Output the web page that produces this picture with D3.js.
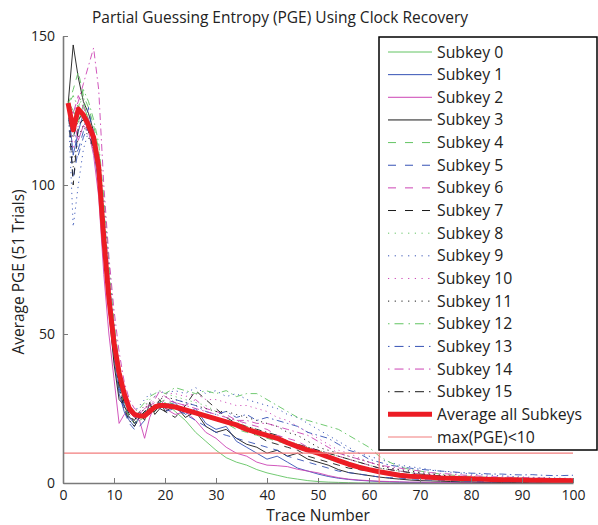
<!DOCTYPE html>
<html>
<head>
<meta charset="utf-8">
<script src="https://cdn.jsdelivr.net/npm/d3@7"></script>
<style>
  body { margin: 0; background: #fff; }
  svg { font-family: "Open Sans", "Noto Sans", sans-serif; }
</style>
</head>
<body>
<div id="chart"></div>
<script>
const traces = d3.range(1, 21).concat(d3.range(22, 101, 2));

const subkeyNames = d3.range(16).map(i => "Subkey " + i);

// one row per subkey: traces 1..20, then 22,24,...,100
const subkey0 = [128,125,121,127,122,117,108,82,60,44,34,27,24,22,21,22,24,25,26,27,
  24,21,17,14,11,8.5,7,6,4.5,3.4,2.6,1.8,1.3,0.8,0.5,0.3,0.2,0.1,0,0,0,0,0,0,0,0,0,0,0,0,0,0,0,0,0,0,0,0,0,0];
const subkey1 = [127,110,118,124,121,112,100,78,58,42,30,24,21,19,22,24,23,25,27,26,
  27,23,25,20,18,19,14,12,10,8,9,7,5,4,3,2.2,1.6,1.2,0.9,0.7,0.5,0.4,0.3,0.2,0.2,0.1,0.1,0.1,0.1,0.1,0.1,0.1,0,0,0,0,0,0,0,0];
const subkey2 = [127,122,115,120,118,110,96,70,50,35,20,23,24,22,21,15,22,26,27,25,
  23,24,21,17,15,12,10,9,7,6,5.8,5.5,4.6,4,3.4,2.5,1.8,1.3,1,0.8,0.6,0.5,0.4,0.3,0.3,0.2,0.2,0.2,0.2,0.1,0.1,0.1,0.1,0.1,0,0,0,0,0,0];
const subkey3 = [127,147,136,128,124,118,108,80,58,40,28,26,22,21,24,21,27,23,25,24,
  26,22,24,19,17,18,15,13,12,10,11,9,10,8,7,6,4.5,3.5,3,2.5,2,1.6,1.3,1,0.8,0.7,0.6,0.5,0.4,0.4,0.3,0.3,0.2,0.2,0.2,0.1,0.1,0.1,0.1,0.1];
const subkey4 = [127,132,138,130,126,120,112,90,66,48,34,26,22,20,22,24,25,24,27,28,
  26,25,23,22,21,20,18,17,16,15,14,13,12,11,10,8,7,6,5,4,3.5,3,2.5,2.2,2,1.8,1.6,1.4,1.3,1.2,1.1,1,0.9,0.8,0.8,0.7,0.7,0.6,0.6,0.5];
const subkey5 = [127,102,112,118,126,116,104,84,62,46,32,24,20,18,19,21,25,26,25,24,
  25,23,21,19,17,16,15,14,13,12,11,9,8,7,6,5,4,3.5,3,2.5,2,1.8,1.6,1.4,1.2,1,0.9,0.8,0.7,0.6,0.5,0.5,0.4,0.4,0.4,0.3,0.3,0.3,0.3,0.2];
const subkey6 = [127,124,130,126,122,118,110,92,70,52,38,28,24,22,23,25,26,27,26,28,
  27,26,28,25,24,23,21,20,19,18,16,15,14,12,11,10,9,8,7,6,5,4.5,4,3.5,3,2.6,2.3,2,1.8,1.6,1.4,1.3,1.2,1.1,1,0.9,0.9,0.8,0.8,0.7];
const subkey7 = [127,100,120,122,118,112,106,88,64,46,34,27,23,20,22,24,26,25,28,24,
  22,26,31,28,25,22,20,18,16,14,13,12,11,9,8,7,6,5,4.5,4,3.5,3,2.5,2.2,2,1.8,1.6,1.4,1.2,1.1,1,0.9,0.8,0.7,0.6,0.6,0.5,0.5,0.4,0.4];
const subkey8 = [127,118,126,130,120,116,108,90,68,50,36,28,24,22,24,26,28,29,28,30,
  29,28,27,26,24,22,21,19,18,16,15,14,13,12,11,10,9,8,7,6,5,4.5,4,3.5,3,2.6,2.3,2,1.8,1.6,1.5,1.4,1.3,1.2,1.1,1,1,0.9,0.9,0.8];
const subkey9 = [127,86,100,112,118,116,110,94,72,54,38,30,26,24,26,28,30,29,31,30,
  31,30,32,30,31,29,30,28,27,26,25,23,22,20,18,16,14,12,10,9,8,7,6,5.5,5,4.5,4,3.6,3.3,3,2.8,2.6,2.4,2.2,2,1.9,1.8,1.7,1.6,1.5];
const subkey10 = [127,112,120,124,118,114,106,90,70,52,36,28,24,22,24,26,27,29,28,30,
  30,29,30,28,28,27,26,26,25,24,22,21,19,17,15,13,11,10,8.5,7,6,5,4.5,4,3.5,3,2.7,2.4,2.2,2,1.8,1.7,1.6,1.5,1.4,1.3,1.2,1.1,1,1];
const subkey11 = [127,106,116,120,116,112,104,88,66,48,34,26,23,21,23,25,27,26,28,29,
  28,27,26,25,24,24,23,22,21,20,19,17,16,14,12,11,10,9,8,7,6,5,4.5,4,3.5,3,2.6,2.3,2,1.8,1.6,1.5,1.4,1.3,1.2,1.1,1,0.9,0.9,0.8];
const subkey12 = [127,130,126,132,128,122,114,96,74,54,40,30,26,24,25,27,29,30,31,30,
  32,31,30,31,30,31,29,30,30,28,26,24,22,21,20,19,18,16,14,12,9,7,5.5,4.5,4,3.5,3,2.7,2.4,2.2,2,1.9,1.8,1.7,1.6,1.5,1.4,1.3,1.3,1.2];
const subkey13 = [127,120,110,116,120,114,106,88,66,48,34,26,22,20,22,24,25,26,27,26,
  28,27,26,24,23,24,22,23,21,22,21,20,19,17,16,15,13,11,10,8,7,6,5.5,5,4.6,4.3,4,3.8,3.5,3.3,3.2,3,3,2.8,2.7,2.8,2.6,2.5,2.5,2.6];
const subkey14 = [127,124,128,134,140,146,132,100,76,58,44,34,28,25,24,25,26,28,31,29,
  27,26,25,24,23,22,21,21,20,20,19,18,17,16,14,12,10,9,8,7,6,5.5,5,4.5,4,3.5,3.2,3,2.7,2.5,2.3,2.1,2,1.9,1.8,1.7,1.6,1.5,1.4,1.3];
const subkey15 = [127,116,122,124,120,114,104,84,62,46,32,25,21,19,22,24,25,24,26,25,
  26,25,24,23,22,21,20,19,18,17,16,14,13,12,11,10,9,8,7,6,5,4.5,4,3.5,3,2.7,2.4,2.2,2,1.8,1.6,1.5,1.4,1.3,1.2,1.1,1,0.9,0.9,0.8];

const subkeyValues = [subkey0, subkey1, subkey2, subkey3, subkey4, subkey5, subkey6, subkey7,
  subkey8, subkey9, subkey10, subkey11, subkey12, subkey13, subkey14, subkey15];

// thick red line
const averageAll = [127.5,118.5,125.5,123.5,120,116,106,82,62,47,37,30,25,23,22.5,22.5,24,25.5,26,26,
  25.5,24.5,23.5,22.5,21.5,20.5,19.5,18,17,16,15,13.5,12.2,11,10,8.8,7.5,6.3,5.3,4.5,3.8,3.2,2.6,2.3,2.1,1.9,1.7,1.6,1.5,1.4,1.3,1.2,1.1,1.05,1,0.95,0.9,0.85,0.8,0.75];

// threshold marker
const thresholdPGE = 10;
const thresholdTrace = 62;

const xTicks = d3.range(0, 101, 10);
const yTicks = [0, 50, 100, 150];

const W = 598, H = 525;
const margin = { top: 36, right: 25, bottom: 42, left: 63 };
const width = W - margin.left - margin.right;
const height = H - margin.top - margin.bottom;

const colors = ["#62c462", "#3552b5", "#cc44b4", "#1a1a1a"];
const dashes = [null, "7,6", "1.2,4", "1.5,3.5,7,3.5"];
const legendDashes = [null, "8,9", "1.2,5.5", "1.5,5,9,5"];

const svg = d3.select("#chart").append("svg")
  .attr("width", W).attr("height", H);

const g = svg.append("g")
  .attr("transform", `translate(${margin.left},${margin.top})`);

const x = d3.scaleLinear().domain([0, 100]).range([0, width]);
const y = d3.scaleLinear().domain([0, 150]).range([height, 0]);

svg.append("defs").append("clipPath").attr("id", "clip")
  .append("rect").attr("width", width).attr("height", height + 1);

const line = d3.line()
  .x((d, i) => x(traces[i]))
  .y(d => y(d));

const plot = g.append("g").attr("clip-path", "url(#clip)");

subkeyValues.forEach((vals, i) => {
  plot.append("path")
    .datum(vals)
    .attr("d", line)
    .attr("fill", "none")
    .attr("stroke", colors[i % 4])
    .attr("stroke-width", 0.9)
    .attr("stroke-dasharray", dashes[Math.floor(i / 4)]);
});

plot.append("path")
  .datum(averageAll)
  .attr("d", line)
  .attr("fill", "none")
  .attr("stroke", "#ec1c24")
  .attr("stroke-width", 5)
  .attr("stroke-linejoin", "round");

// max(PGE)<10 marker
plot.append("line")
  .attr("x1", x(0)).attr("x2", x(100))
  .attr("y1", y(thresholdPGE)).attr("y2", y(thresholdPGE))
  .attr("stroke", "#f27c7c").attr("stroke-width", 1.2);
plot.append("line")
  .attr("x1", x(thresholdTrace)).attr("x2", x(thresholdTrace))
  .attr("y1", y(0)).attr("y2", y(thresholdPGE))
  .attr("stroke", "#f27c7c").attr("stroke-width", 1.2);

// axes (ticks inside)
const xAxis = g.append("g")
  .attr("transform", `translate(0,${height})`)
  .call(d3.axisBottom(x).tickValues(xTicks).tickSize(-5).tickPadding(7).tickSizeOuter(0));
const yAxis = g.append("g")
  .call(d3.axisLeft(y).tickValues(yTicks).tickSize(-5).tickPadding(8).tickSizeOuter(0));

[xAxis, yAxis].forEach(a => {
  a.select(".domain").attr("stroke", "#7a7a7a").attr("stroke-width", 1.6);
  a.selectAll(".tick line").attr("stroke", "#7a7a7a");
  a.selectAll(".tick text").attr("font-size", 14).attr("fill", "#222")
    .attr("font-family", "'Open Sans', sans-serif");
});

// labels
svg.append("text")
  .attr("x", 92).attr("y", 23)
  .attr("text-anchor", "start").attr("font-size", 15.5).attr("fill", "#222")
  .text("Partial Guessing Entropy (PGE) Using Clock Recovery");
svg.append("text")
  .attr("x", margin.left + width / 2).attr("y", 521)
  .attr("text-anchor", "middle").attr("font-size", 15.5).attr("fill", "#222")
  .text("Trace Number");
svg.append("text")
  .attr("transform", `translate(24,272) rotate(-90)`)
  .attr("text-anchor", "middle").attr("font-size", 15.5).attr("fill", "#222")
  .text("Average PGE (51 Trials)");

// legend
const legend = svg.append("g");
legend.append("rect")
  .attr("x", 379).attr("y", 37).attr("width", 218).attr("height", 413)
  .attr("fill", "#fff").attr("stroke", "#000").attr("stroke-width", 1.5);

const legendItems = subkeyNames.map((n, i) => ({
  name: n, color: colors[i % 4], dash: legendDashes[Math.floor(i / 4)], w: 1
})).concat([
  { name: "Average all Subkeys", color: "#ec1c24", dash: null, w: 5 },
  { name: "max(PGE)<10", color: "#f27c7c", dash: null, w: 1.2 }
]);

const ly = d3.scaleLinear().domain([0, 17]).range([52, 437]);

legendItems.forEach((d, i) => {
  legend.append("line")
    .attr("x1", 388).attr("x2", 432)
    .attr("y1", ly(i)).attr("y2", ly(i))
    .attr("stroke", d.color).attr("stroke-width", d.w)
    .attr("stroke-dasharray", d.dash);
  legend.append("text")
    .attr("x", 437).attr("y", ly(i)).attr("dy", "0.35em")
    .attr("font-size", 15.8).attr("fill", "#222")
    .text(d.name);
});
</script>
</body>
</html>
